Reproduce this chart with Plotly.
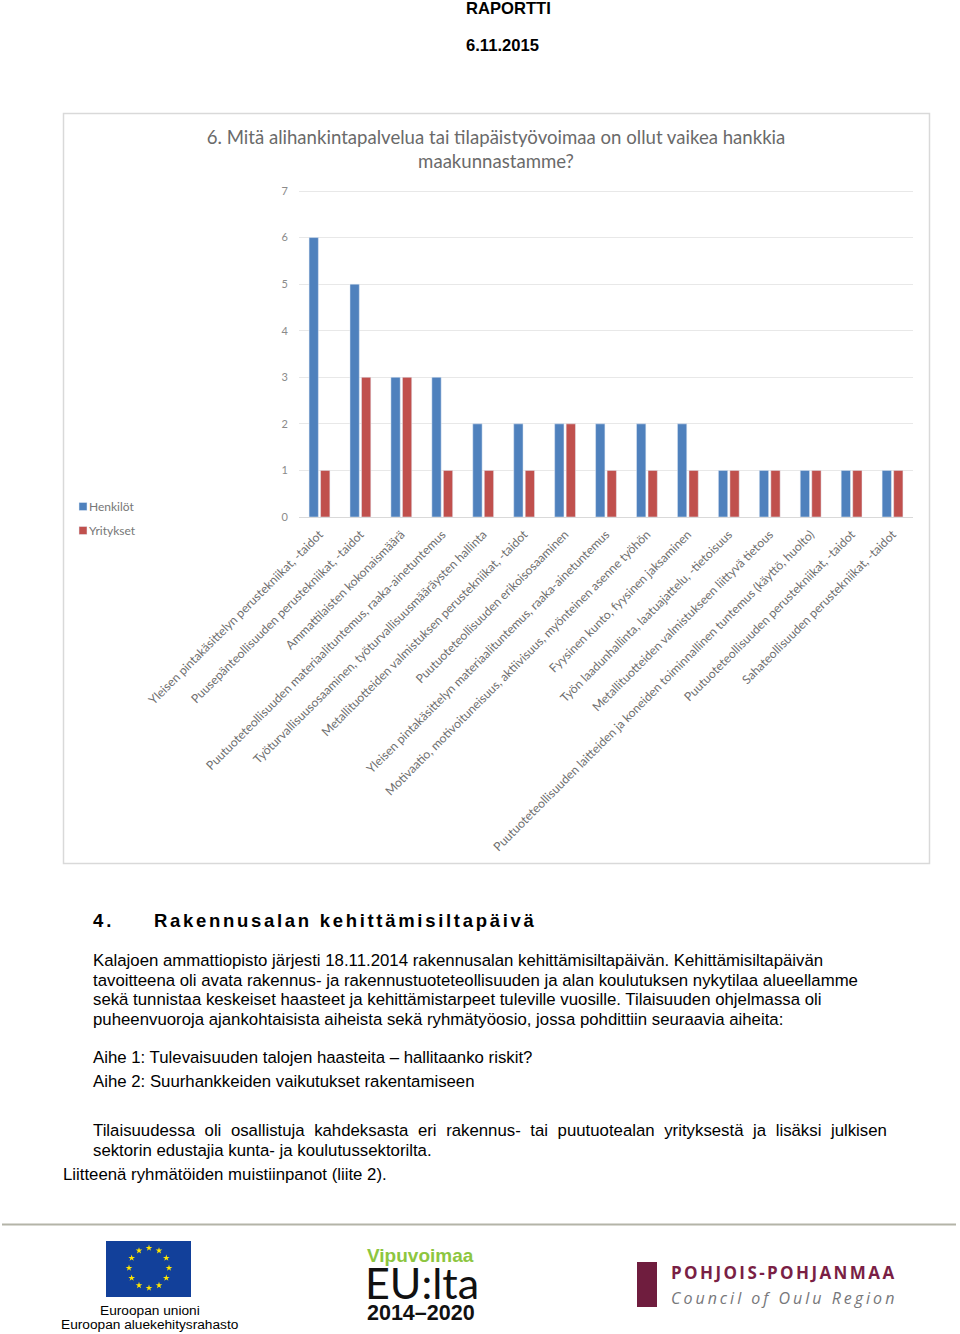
"""Report page with a grouped bar chart, drawn on one Plotly figure."""

import math

import plotly.graph_objects as go

PAGE_W = 960
PAGE_H = 1334

categories = [
    "Yleisen pintakäsittelyn perustekniikat, -taidot",
    "Puusepänteollisuuden perustekniikat, -taidot",
    "Ammattilaisten kokonaismäärä",
    "Puutuoteteollisuuden materiaalituntemus, raaka-ainetuntemus",
    "Työturvallisuusosaaminen, työturvallisuusmääräysten hallinta",
    "Metallituotteiden valmistuksen perustekniikat, -taidot",
    "Puutuoteteollisuuden erikoisosaaminen",
    "Yleisen pintakäsittelyn materiaalituntemus, raaka-ainetuntemus",
    "Motivaatio, motivoituneisuus, aktiivisuus, myönteinen asenne työhön",
    "Fyysinen kunto, fyysinen jaksaminen",
    "Työn laadunhallinta, laatuajattelu, -tietoisuus",
    "Metallituotteiden valmistukseen liittyvä tietous",
    "Puutuoteteollisuuden laitteiden ja koneiden toiminnallinen tuntemus (käyttö, huolto)",
    "Puutuoteteollisuuden perustekniikat, -taidot",
    "Sahateollisuuden perustekniikat, -taidot",
]
henkilot = [6, 5, 3, 3, 2, 2, 2, 2, 2, 2, 1, 1, 1, 1, 1]
yritykset = [1, 3, 3, 1, 1, 1, 2, 1, 1, 1, 1, 1, 1, 1, 1]
y_ticks = [0, 1, 2, 3, 4, 5, 6, 7]

BLUE = "#4f81bd"
RED = "#c0504d"
GREY = "#8a8a8a"
TEXT = "#000000"
BODY = "Liberation Sans"

# page text: (x, y, string, size, bold)
page_text = [
    (464, 8, "RAPORTTI", 16.6, True),
    (464, 45, "6.11.2015", 16.6, True),
    (91, 920, "4.", 18.5, True),
    (152, 920, "Rakennusalan kehittämisiltapäivä", 18.5, True),
    (91, 960, "Kalajoen ammattiopisto järjesti 18.11.2014 rakennusalan kehittämisiltapäivän. Kehittämisiltapäivän", 16.8, False),
    (91, 980, "tavoitteena oli avata rakennus- ja rakennustuoteteollisuuden ja alan koulutuksen nykytilaa alueellamme", 16.8, False),
    (91, 999, "sekä tunnistaa keskeiset haasteet ja kehittämistarpeet tuleville vuosille. Tilaisuuden ohjelmassa oli", 16.8, False),
    (91, 1019, "puheenvuoroja ajankohtaisista aiheista sekä ryhmätyöosio, jossa pohdittiin seuraavia aiheita:", 16.8, False),
    (91, 1057, "Aihe 1: Tulevaisuuden talojen haasteita – hallitaanko riskit?", 16.8, False),
    (91, 1081, "Aihe 2: Suurhankkeiden vaikutukset rakentamiseen", 16.8, False),
    (91, 1130, "Tilaisuudessa oli osallistuja kahdeksasta eri rakennus- tai puutuotealan yrityksestä ja lisäksi julkisen", 16.8, False),
    (91, 1150, "sektorin edustajia kunta- ja koulutussektorilta.", 16.8, False),
    (61, 1174, "Liitteenä ryhmätöiden muistiinpanot (liite 2).", 16.8, False),
]

fig = go.Figure()

fig.add_bar(x=categories, y=henkilot, name="Henkilöt", marker_color=BLUE, legendgroup="h")
fig.add_bar(x=categories, y=yritykset, name="Yritykset", marker_color=RED, legendgroup="y")

# EU flag stars, on the page axes
star_x = [149 + 20 * math.cos(i * math.pi / 6) for i in range(12)]
star_y = [1268 + 20 * math.sin(i * math.pi / 6) for i in range(12)]
fig.add_scatter(
    x=star_x, y=star_y, xaxis="x2", yaxis="y2", mode="markers", showlegend=False,
    marker=dict(symbol="star", size=5, color="#ffe600"), hoverinfo="skip",
)


def label(x, y, text, size, color=TEXT, family=BODY, anchor="left"):
    fig.add_annotation(
        x=x, y=y, xref="x2", yref="y2", text=text, showarrow=False,
        xanchor=anchor, yanchor="middle", align=anchor,
        font=dict(family=family, size=size, color=color),
    )


for x, y, text, size, bold in page_text:
    label(x, y, f"<b>{text}</b>" if bold else text, size)

# footer text and logos
label(150, 1310, "Euroopan unioni", 13.7, anchor="center")
label(150, 1324, "Euroopan aluekehitysrahasto", 13.7, anchor="center")
label(420, 1255, "<b>Vipuvoimaa</b>", 19, "#8dc63f", BODY, "center")
label(422, 1282, "EU:lta", 43, "#111111", "Lato", "center")
label(421, 1313, "<b>2014–2020</b>", 21.5, "#111111", BODY, "center")
label(669, 1272, "<b>POHJOIS-POHJANMAA</b>", 17, "#7a1f45", "Open Sans")
label(669, 1298, "<i>Council of Oulu Region</i>", 16, "#77777a", "Open Sans")

shapes = [
    dict(type="rect", x0=63.5, x1=929.5, y0=113.5, y1=863.5, line=dict(color="#d9d9d9", width=1.5)),
    dict(type="line", x0=2, x1=956, y0=1224.5, y1=1224.5, line=dict(color="#b4b4a8", width=2)),
    dict(type="rect", x0=106, x1=191, y0=1241, y1=1297, fillcolor="#12409a", line_width=0, layer="below"),
    dict(type="rect", x0=637, x1=657, y0=1262, y1=1307, fillcolor="#6f1d3e", line_width=0),
]
for s in shapes:
    s.update(xref="x2", yref="y2")

fig.update_layout(
    width=PAGE_W,
    height=PAGE_H,
    autosize=False,
    margin=dict(l=0, r=0, t=0, b=0),
    paper_bgcolor="white",
    plot_bgcolor="rgba(0,0,0,0)",
    barmode="group",
    bargap=0.438,
    bargroupgap=0.19,
    shapes=shapes,
    hovermode=False,
    title=dict(
        text="6. Mitä alihankintapalvelua tai tilapäistyövoimaa on ollut vaikea hankkia<br>maakunnastamme?",
        x=496 / PAGE_W, xanchor="center", xref="paper",
        y=1 - 144 / PAGE_H, yanchor="top", yref="paper",
        font=dict(family="Lato", size=18.6, color="#6a6a6a"),
    ),
    legend=dict(
        x=63 / PAGE_W, xanchor="left", y=1 - 492 / PAGE_H, yanchor="top",
        tracegroupgap=5, font=dict(family="Lato", size=12, color="#777777"),
        bgcolor="rgba(0,0,0,0)", traceorder="grouped",
    ),
    xaxis=dict(
        domain=[299 / PAGE_W, 913 / PAGE_W], range=[-0.5, 14.5], type="category",
        tickangle=-45, ticks="", showgrid=False, showline=False, automargin=False,
        tickfont=dict(family="Lato", size=12.2, color="#6f6f6f"),
        ticklabelstandoff=7, anchor="y", tickson="labels",
    ),
    yaxis=dict(
        # top of the range sits a little above 7 so Plotly keeps that gridline
        domain=[1 - 517 / PAGE_H, 1 - 189.6 / PAGE_H], range=[0, 7.03], tickvals=y_ticks,
        ticks="", showline=False, gridcolor="#e8e8e8", gridwidth=1, zeroline=True,
        zerolinecolor="#d9d9d9", zerolinewidth=1, automargin=False,
        tickfont=dict(family="Lato", size=11, color=GREY), ticklabelstandoff=10, anchor="x",
    ),
    xaxis2=dict(domain=[0, 1], range=[0, PAGE_W], visible=False, anchor="y2", fixedrange=True),
    yaxis2=dict(domain=[0, 1], range=[PAGE_H, 0], visible=False, anchor="x2", fixedrange=True),
)

# the browser page must not add a margin; letter spacing and legend swatches
# have no Plotly attribute, so they are set on the drawn SVG
post_script = """
document.body.style.margin = '0';
const spacing = [
  ['Rakennusalan', 'letter-spacing', '2.7px'],
  ['4.', 'letter-spacing', '3px'],
  ['POHJOIS', 'letter-spacing', '2.4px'],
  ['Council', 'letter-spacing', '3px'],
  ['Tilaisuudessa oli', 'word-spacing', '4.9px'],
];
document.querySelectorAll('.annotation-text').forEach(t => {
  spacing.forEach(s => {
    if (t.textContent.startsWith(s[0])) t.style.setProperty(s[1], s[2]);
  });
});
document.querySelectorAll('.legendtext').forEach(t => t.setAttribute('x', 26));
document.querySelectorAll('.legendpoints path').forEach(p => {
  p.setAttribute('d', 'M4,4H-4V-4H4Z');
});
"""

fig.write_html("out.html", post_script=post_script, config={"displayModeBar": False})
